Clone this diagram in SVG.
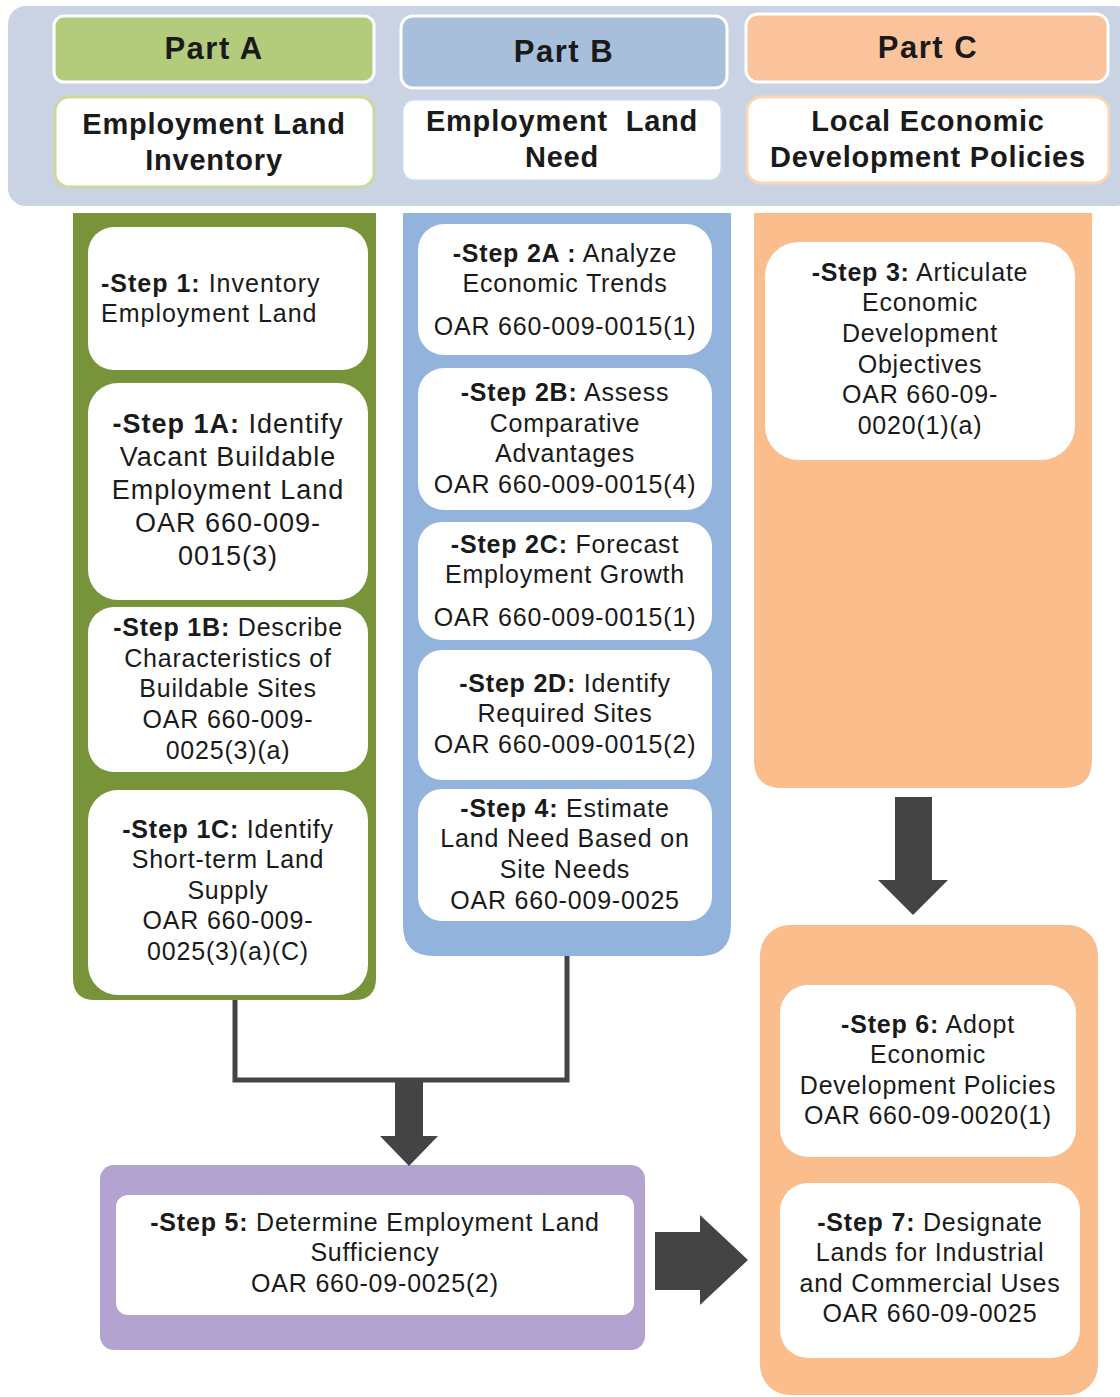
<svg xmlns="http://www.w3.org/2000/svg" width="1120" height="1397" viewBox="0 0 1120 1397">
<style>
text{font-family:"Liberation Sans",Arial,sans-serif;fill:#1a1a1a}
.h{font-weight:bold;font-size:31px;letter-spacing:1.5px}
.s{font-weight:bold;font-size:29px;letter-spacing:0.8px}
.t{font-size:25px;letter-spacing:0.8px;text-anchor:middle}
.l{font-size:27px;letter-spacing:1px;text-anchor:middle}
.b{font-weight:bold}
.box{fill:#ffffff}
.arr{fill:#444444}
.ln{stroke:#444444;stroke-width:5;fill:none}
</style>
<rect width="1120" height="1397" fill="#ffffff"/>
<g id="header">
<rect x="8" y="6" width="1125" height="200" rx="18" fill="#c9d3e3"/>
</g>
<g id="partA">
<rect x="54" y="16" width="320" height="66" rx="10" fill="#b3cc7b" stroke="#ffffff" stroke-width="3"/>
<text class="h" x="214" y="59" text-anchor="middle">Part A</text>
<rect x="55" y="97" width="319" height="90" rx="14" fill="#ffffff" stroke="#c8da9e" stroke-width="3"/>
<text class="s" x="214" y="134" text-anchor="middle">Employment Land</text>
<text class="s" x="214" y="170" text-anchor="middle">Inventory</text>
</g>
<g id="partB">
<rect x="401" y="16" width="326" height="72" rx="12" fill="#a8bfdc" stroke="#ffffff" stroke-width="3"/>
<text class="h" x="564" y="62" text-anchor="middle">Part B</text>
<rect x="402" y="99" width="320" height="82" rx="12" fill="#ffffff" stroke="#c9d7ea" stroke-width="3"/>
<text class="s" x="562" y="131" text-anchor="middle" xml:space="preserve" style="white-space:pre">Employment  Land</text>
<text class="s" x="562" y="167" text-anchor="middle">Need</text>
</g>
<g id="partC">
<rect x="746" y="14" width="362" height="68" rx="12" fill="#fac39b" stroke="#ffffff" stroke-width="3"/>
<text class="h" x="928" y="58" text-anchor="middle">Part C</text>
<rect x="747" y="97" width="362" height="86" rx="14" fill="#ffffff" stroke="#fcd5b6" stroke-width="3"/>
<text class="s" x="928" y="131" text-anchor="middle">Local Economic</text>
<text class="s" x="928" y="167" text-anchor="middle">Development Policies</text>
</g>
<g id="colA">
<path d="M73 213 H376 V978 Q376 1000 354 1000 H95 Q73 1000 73 978 Z" fill="#77943b"/>
</g>
<g id="colB">
<path d="M403 213 H731 V925 Q731 956 700 956 H434 Q403 956 403 925 Z" fill="#92b3dc"/>
</g>
<g id="colC">
<path d="M754 213 H1092 V760 Q1092 788 1064 788 H782 Q754 788 754 760 Z" fill="#fbbd8c"/>
</g>
<g id="step1">
<rect class="box" x="88" y="227" width="280" height="143" rx="26"/>
<text x="101" y="292" style="font-size:25px;letter-spacing:1px"><tspan class="b">-Step 1:</tspan> Inventory</text>
<text x="101" y="322" style="font-size:25px;letter-spacing:1px">Employment Land</text>
</g>
<g id="step1A">
<rect class="box" x="88" y="383" width="280" height="217" rx="30"/>
<text class="l" x="228" y="433"><tspan class="b">-Step 1A:</tspan> Identify</text>
<text class="l" x="228" y="466">Vacant Buildable</text>
<text class="l" x="228" y="499">Employment Land</text>
<text class="l" x="228" y="532">OAR 660-009-</text>
<text class="l" x="228" y="565">0015(3)</text>
</g>
<g id="step1B">
<rect class="box" x="88" y="607" width="280" height="165" rx="26"/>
<text class="t" x="228" y="636"><tspan class="b">-Step 1B:</tspan> Describe</text>
<text class="t" x="228" y="667">Characteristics of</text>
<text class="t" x="228" y="697">Buildable Sites</text>
<text class="t" x="228" y="728">OAR 660-009-</text>
<text class="t" x="228" y="759">0025(3)(a)</text>
</g>
<g id="step1C">
<rect class="box" x="88" y="790" width="280" height="205" rx="30"/>
<text class="t" x="228" y="838"><tspan class="b">-Step 1C:</tspan> Identify</text>
<text class="t" x="228" y="868">Short-term Land</text>
<text class="t" x="228" y="899">Supply</text>
<text class="t" x="228" y="929">OAR 660-009-</text>
<text class="t" x="228" y="960">0025(3)(a)(C)</text>
</g>
<g id="step2A">
<rect class="box" x="418" y="224" width="294" height="131" rx="26"/>
<text class="t" x="565" y="262"><tspan class="b">-Step 2A :</tspan> Analyze</text>
<text class="t" x="565" y="292">Economic Trends</text>
<text class="t" x="565" y="335">OAR 660-009-0015(1)</text>
</g>
<g id="step2B">
<rect class="box" x="418" y="368" width="294" height="142" rx="26"/>
<text class="t" x="565" y="401"><tspan class="b">-Step 2B:</tspan> Assess</text>
<text class="t" x="565" y="432">Comparative</text>
<text class="t" x="565" y="462">Advantages</text>
<text class="t" x="565" y="493">OAR 660-009-0015(4)</text>
</g>
<g id="step2C">
<rect class="box" x="418" y="522" width="294" height="118" rx="24"/>
<text class="t" x="565" y="553"><tspan class="b">-Step 2C:</tspan> Forecast</text>
<text class="t" x="565" y="583">Employment Growth</text>
<text class="t" x="565" y="626">OAR 660-009-0015(1)</text>
</g>
<g id="step2D">
<rect class="box" x="418" y="650" width="294" height="130" rx="24"/>
<text class="t" x="565" y="692"><tspan class="b">-Step 2D:</tspan> Identify</text>
<text class="t" x="565" y="722">Required Sites</text>
<text class="t" x="565" y="753">OAR 660-009-0015(2)</text>
</g>
<g id="step4">
<rect class="box" x="418" y="789" width="294" height="132" rx="24"/>
<text class="t" x="565" y="817"><tspan class="b">-Step 4:</tspan> Estimate</text>
<text class="t" x="565" y="847">Land Need Based on</text>
<text class="t" x="565" y="878">Site Needs</text>
<text class="t" x="565" y="909">OAR 660-009-0025</text>
</g>
<g id="step3">
<rect class="box" x="765" y="242" width="310" height="218" rx="34"/>
<text class="t" x="920" y="281"><tspan class="b">-Step 3:</tspan> Articulate</text>
<text class="t" x="920" y="311">Economic</text>
<text class="t" x="920" y="342">Development</text>
<text class="t" x="920" y="373">Objectives</text>
<text class="t" x="920" y="403">OAR 660-09-</text>
<text class="t" x="920" y="434">0020(1)(a)</text>
</g>
<g id="partC2">
<rect x="760" y="925" width="338" height="470" rx="30" fill="#fbbd8c"/>
</g>
<g id="step6">
<rect class="box" x="780" y="985" width="296" height="172" rx="28"/>
<text class="t" x="928" y="1033"><tspan class="b">-Step 6:</tspan> Adopt</text>
<text class="t" x="928" y="1063">Economic</text>
<text class="t" x="928" y="1094">Development Policies</text>
<text class="t" x="928" y="1124">OAR 660-09-0020(1)</text>
</g>
<g id="step7">
<rect class="box" x="780" y="1183" width="300" height="175" rx="28"/>
<text class="t" x="930" y="1231"><tspan class="b">-Step 7:</tspan> Designate</text>
<text class="t" x="930" y="1261">Lands for Industrial</text>
<text class="t" x="930" y="1292">and Commercial Uses</text>
<text class="t" x="930" y="1322">OAR 660-09-0025</text>
</g>
<g id="step5">
<rect x="100" y="1165" width="545" height="185" rx="14" fill="#b3a3d1"/>
<rect class="box" x="116" y="1195" width="518" height="120" rx="12"/>
<text class="t" x="375" y="1231"><tspan class="b">-Step 5:</tspan> Determine Employment Land</text>
<text class="t" x="375" y="1261">Sufficiency</text>
<text class="t" x="375" y="1292">OAR 660-09-0025(2)</text>
</g>
<g id="connectors">
<path class="ln" d="M235 1000 V1080 H567 V956"/>
<path class="arr" d="M395 1080 H423 V1136 H438 L409 1166 L380 1136 H395 Z"/>
<path class="arr" d="M895 797 H932 V880 H948 L913 915 L878 880 H895 Z"/>
<path class="arr" d="M655 1232 H700 V1215 L748 1260 L700 1305 V1290 H655 Z"/>
</g>
</svg>
